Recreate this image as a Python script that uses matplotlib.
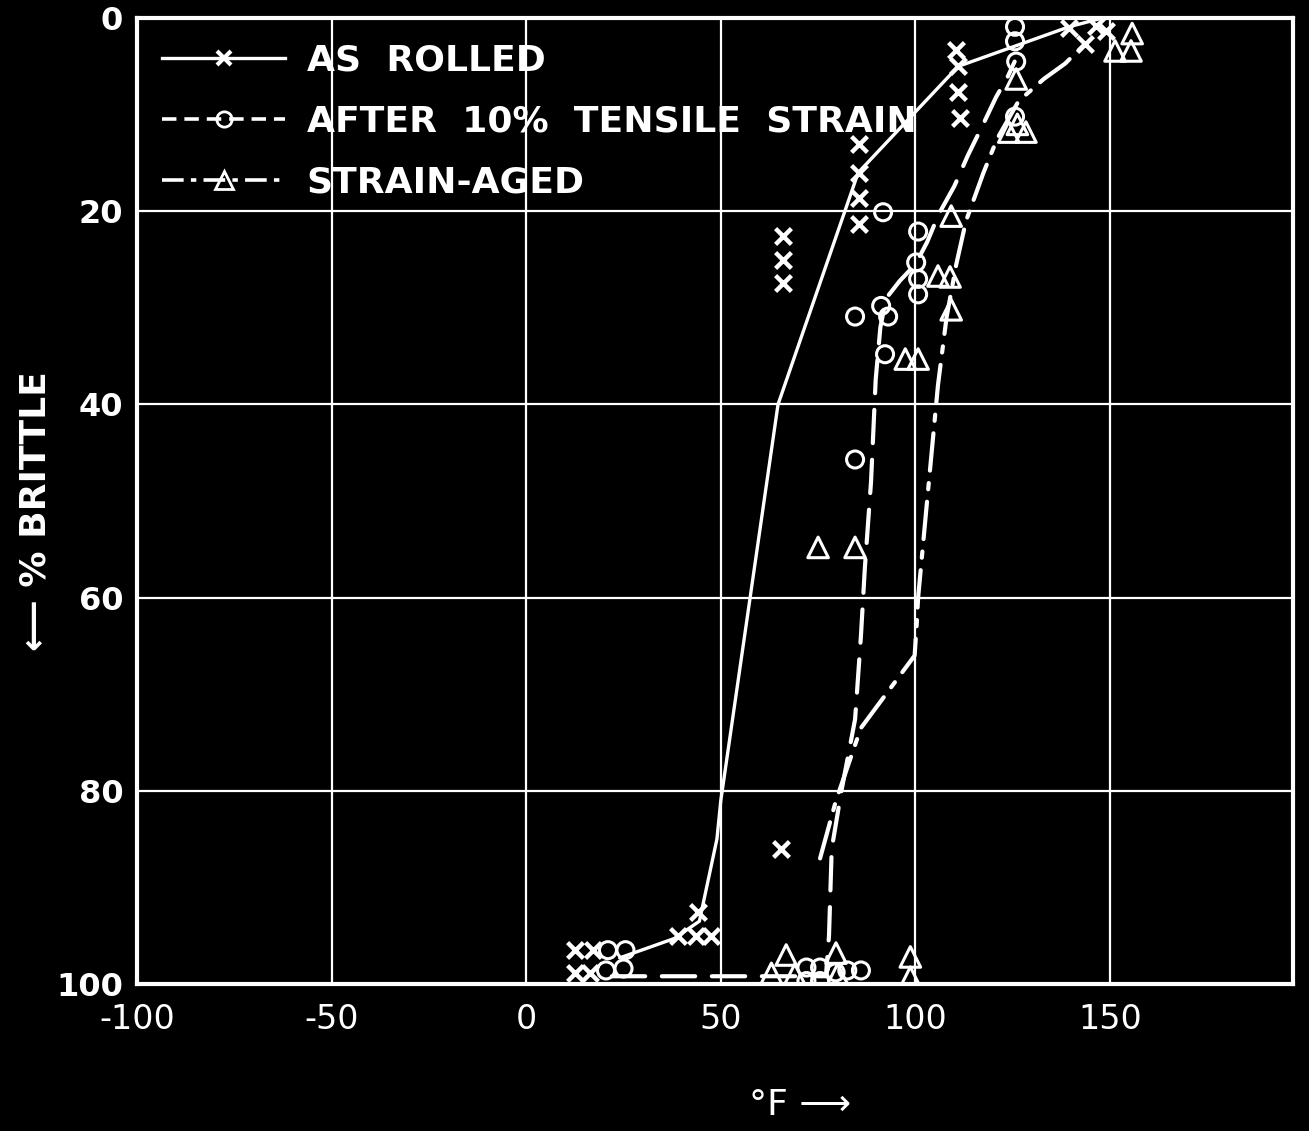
import numpy as np
import matplotlib
matplotlib.use("Agg")
import matplotlib.pyplot as plt
from matplotlib.legend_handler import HandlerLine2D
from matplotlib.lines import Line2D

# ---- data (temperature in deg F, percent brittle fracture) ----
rolled_line_x = [24, 38, 44.5, 49, 50, 64.7, 85.3, 111, 139.5, 148]
rolled_line_y = [97.3, 95.3, 93.5, 85, 81, 40, 16, 5, 0.9, 0]
rolled_pts_x = [12.6, 17.2, 12.6, 16.4, 39, 43.5, 47.5, 44.2, 65.5, 66, 66, 66,
                85.5, 85.5, 85.5, 85.5, 110.5, 111, 111, 111.5, 139.5, 143.5, 146.5, 149]
rolled_pts_y = [96.5, 96.5, 98.9, 98.9, 95, 95, 95, 92.6, 86, 22.6, 25, 27.4,
                13, 16, 18.6, 21.3, 3.3, 5, 7.6, 10.3, 1, 2.7, 0.8, 1.3]

strained_line_x = [22, 60, 77, 77.8, 78.5, 81, 84.5, 86, 87, 88.6, 89.8, 91, 92.5,
                   96, 100, 103, 106, 110, 113.5, 117.4, 120.7, 123.8, 125.5]
strained_line_y = [99.2, 99.2, 99.2, 95, 86, 80, 72.6, 64, 57, 48, 37.4, 32, 29,
                   27.2, 25.5, 23.2, 20.3, 17.4, 14.2, 11, 8.2, 6, 4.5]
strained_pts_x = [21, 25.5, 20.5, 25, 72, 75.5, 79.5, 82.5, 86, 72, 75.5, 84.5, 84.5,
                  91.7, 91.2, 93, 92.2, 100.7, 100.2, 100.7, 100.7, 125.6, 125.6, 125.9, 125.6]
strained_pts_y = [96.5, 96.5, 98.6, 98.4, 98.3, 98.3, 98.8, 98.6, 98.6, 99.7, 99.7, 45.7, 30.9,
                  20.1, 29.8, 30.9, 34.8, 22.1, 25.3, 27, 28.6, 0.9, 2.4, 4.5, 10.2]

aged_line_x = [75.5, 79.6, 86, 99.8, 100.3, 100.7, 103, 105.8, 108, 110.5, 113,
               117.5, 121, 126.5, 133, 138.5, 144]
aged_line_y = [87, 81, 73.5, 66, 63, 60, 50, 38, 31, 25.5, 21, 16, 12.5, 8.6, 6.3, 4.7, 2.5]
aged_pts_x = [63, 66.8, 69, 79.6, 80, 98.7, 98.7, 75, 84.5, 97.4, 100.7, 105.8, 108.9,
              109.2, 109.2, 125.9, 124, 126.2, 128.4, 151.3, 155.4, 155.7]
aged_pts_y = [98.9, 97, 99, 96.8, 99, 97.2, 99.3, 54.8, 54.8, 35.3, 35.3, 26.7, 26.8,
              30.2, 20.5, 6.3, 11.8, 11, 11.8, 3.4, 3.4, 1.6]

series_labels = ["AS  ROLLED", "AFTER  10%  TENSILE  STRAIN", "STRAIN-AGED"]
x_ticks = [-100, -50, 0, 50, 100, 150]
y_ticks = [0, 20, 40, 60, 80, 100]

FG = "white"
BG = "black"

fig = plt.figure(figsize=(13.09, 11.31), dpi=100, facecolor=BG)
ax = fig.add_axes([0.1047, 0.130, 0.883, 0.854], facecolor=BG)

dashed = (8, 4)
dashdot = (9, 3, 1.5, 3)

ax.plot(rolled_line_x, rolled_line_y, color=FG, lw=2.4, solid_capstyle="round", zorder=3)
ax.plot(strained_line_x, strained_line_y, color=FG, lw=3, dashes=dashed,
        dash_capstyle="round", zorder=3)
ax.plot(aged_line_x, aged_line_y, color=FG, lw=3, dashes=dashdot,
        dash_capstyle="round", zorder=3)

ax.scatter(rolled_pts_x, rolled_pts_y, marker="x", s=130, color=FG, linewidths=3.2, zorder=4)
ax.scatter(strained_pts_x, strained_pts_y, marker="o", s=150, facecolors="none",
           edgecolors=FG, linewidths=2.2, zorder=4)
ax.scatter(aged_pts_x, aged_pts_y, marker="^", s=220, facecolors="none",
           edgecolors=FG, linewidths=2.2, zorder=4)

ax.set_xlim(-100, 197)
ax.set_ylim(100, 0)
ax.set_xticks(x_ticks)
ax.set_yticks(y_ticks)
ax.set_xticklabels([str(v) for v in x_ticks], fontsize=24, color=FG,
                   family="DejaVu Sans")
ax.set_yticklabels([str(v) for v in y_ticks], fontsize=23, color=FG,
                   family="DejaVu Sans", fontweight="bold")
ax.tick_params(axis="both", length=0)
ax.tick_params(axis="x", pad=14)
ax.tick_params(axis="y", pad=10)

ax.grid(True, color=FG, lw=1.6)
ax.set_axisbelow(True)
for sp in ax.spines.values():
    sp.set_color(FG)
    sp.set_linewidth(3)

ax.set_xlabel("°F ⟶", fontsize=26, color=FG)
ax.xaxis.label.set_va("center")
ax.xaxis.set_label_coords(0.574, -0.125)
ax.set_ylabel("⟵ % BRITTLE", fontsize=26, color=FG, fontweight="bold")
ax.yaxis.label.set_va("center")
ax.yaxis.set_label_coords(-0.088, 0.49)


class EndMarkerHandler(HandlerLine2D):
    """Line sample with its marker drawn at the right-hand end."""
    def get_xdata(self, legend, xdescent, ydescent, width, height, fontsize):
        xdata = np.array([-xdescent, -xdescent + width])
        return xdata, np.array([-xdescent + width])


handles = [
    Line2D([], [], color=FG, lw=2.4, marker="x", ms=10, mew=3),
    Line2D([], [], color=FG, lw=2.6, dashes=(4, 2.2), marker="o", ms=11,
           mfc="none", mec=FG, mew=2),
    Line2D([], [], color=FG, lw=2.6, dashes=(6, 2, 1.5, 2), marker="^", ms=13,
           mfc="none", mec=FG, mew=2),
]
leg = ax.legend(handles, series_labels, loc="upper left", frameon=False,
                handler_map={h: EndMarkerHandler(numpoints=1) for h in handles},
                prop={"family": "DejaVu Sans", "weight": "bold", "size": 26},
                handlelength=3.4, handletextpad=0.6, labelspacing=0.75,
                borderaxespad=0.3, bbox_to_anchor=(0.0, 1.0))
for t in leg.get_texts():
    t.set_color(FG)

fig.savefig("out.png", dpi=100, facecolor=BG)
